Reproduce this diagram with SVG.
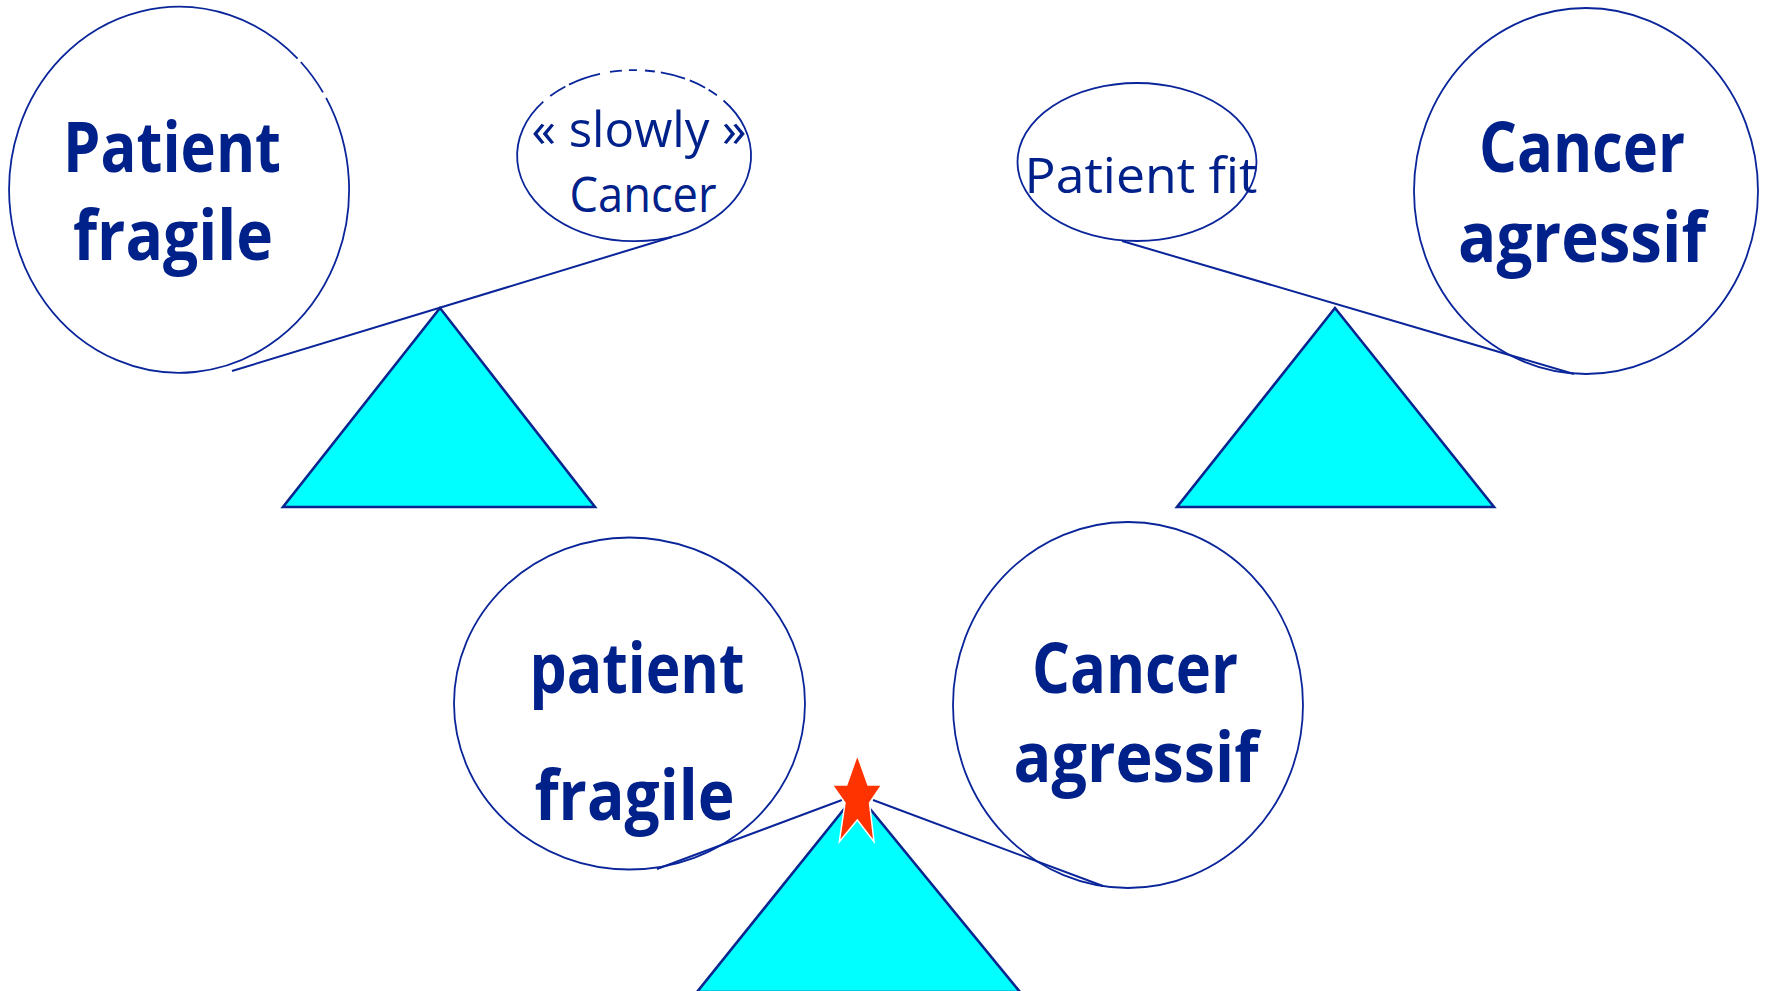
<svg xmlns="http://www.w3.org/2000/svg" width="1765" height="991" viewBox="0 0 1765 991">
<style>
.bub{fill:none;stroke:#0A259A;stroke-width:1.8}
.tri{fill:#00FFFF;stroke:#0A2590;stroke-width:2.6;stroke-linejoin:miter}
.beam{stroke:#0A259A;stroke-width:2;fill:none}
.big{font-family:"Open Sans","Liberation Sans",sans-serif;font-weight:bold;font-size:70px;fill:#00208A;text-anchor:middle}
.small{font-family:"Open Sans","Liberation Sans",sans-serif;font-weight:normal;font-size:50px;fill:#00208A;text-anchor:middle}
</style>
<rect width="1765" height="991" fill="#FFFFFF"/>

<g id="connectors">
  <line class="beam" x1="232" y1="371" x2="672" y2="237"/>
  <line class="beam" x1="1122" y1="241" x2="1574" y2="374"/>
  <line class="beam" x1="657" y1="869" x2="842" y2="800"/>
  <line class="beam" x1="873" y1="800" x2="1103" y2="886"/>
</g>

<g id="fulcrum-left">
  <polygon class="tri" points="440,308 283,507 595,507"/>
</g>
<g id="fulcrum-right">
  <polygon class="tri" points="1335,308 1177,507 1494,507"/>
</g>
<g id="fulcrum-bottom">
  <polygon class="tri" points="857,793 697,992 1020,992"/>
</g>

<g id="patient-fragile-top">
  <path class="bub" d="M 326.1,97.9 A 170 183 0 1 1 297.6,58.6 M 300.8,62.0 A 170 183 0 0 1 323.0,92.4"/>
  <text class="big" x="172" y="172" textLength="218" lengthAdjust="spacingAndGlyphs">Patient</text>
  <text class="big" x="173" y="260" textLength="200" lengthAdjust="spacingAndGlyphs">fragile</text>
</g>

<g id="slowly-cancer">
  <path class="bub" d="M 543.3,101.7 A 117 85.5 0 1 0 723.5,100.5"/>
  <path class="bub" d="M 543.3,101.7 A 117 85.5 0 0 1 723.5,100.5" stroke-dasharray="0 9 18 4 33 10 12 7 8 8 10 6 25 5 17 4 10 20"/>
  <text class="small" x="639" y="147" textLength="215" lengthAdjust="spacingAndGlyphs">« slowly »</text>
  <text class="small" x="643" y="212" textLength="147" lengthAdjust="spacingAndGlyphs">Cancer</text>
</g>

<g id="patient-fit">
  <ellipse class="bub" cx="1137" cy="162" rx="119.5" ry="79"/>
  <text class="small" x="1141" y="193" font-size="52" textLength="233" lengthAdjust="spacingAndGlyphs">Patient fit</text>
</g>

<g id="cancer-agressif-top">
  <ellipse class="bub" cx="1586" cy="191" rx="172" ry="183"/>
  <text class="big" x="1582" y="172" textLength="206" lengthAdjust="spacingAndGlyphs">Cancer</text>
  <text class="big" x="1582" y="262" textLength="248" lengthAdjust="spacingAndGlyphs">agressif</text>
</g>

<g id="patient-fragile-bottom">
  <ellipse class="bub" cx="629.5" cy="703.5" rx="175.5" ry="166"/>
  <text class="big" x="637" y="693" textLength="215" lengthAdjust="spacingAndGlyphs">patient</text>
  <text class="big" x="634.5" y="820" textLength="200" lengthAdjust="spacingAndGlyphs">fragile</text>
</g>

<g id="cancer-agressif-bottom">
  <ellipse class="bub" cx="1128" cy="705" rx="175" ry="183"/>
  <text class="big" x="1135" y="693" textLength="206" lengthAdjust="spacingAndGlyphs">Cancer</text>
  <text class="big" x="1136" y="782" textLength="245" lengthAdjust="spacingAndGlyphs">agressif</text>
</g>

<g id="star">
  <polygon points="857.3,755 868,785 881.7,785 869.5,803 874,841.7 857.3,820 839.3,841.7 845,803 832.3,785 846.7,785" fill="#FF3300" stroke="#FFFFFF" stroke-width="1.5"/>
</g>
</svg>
